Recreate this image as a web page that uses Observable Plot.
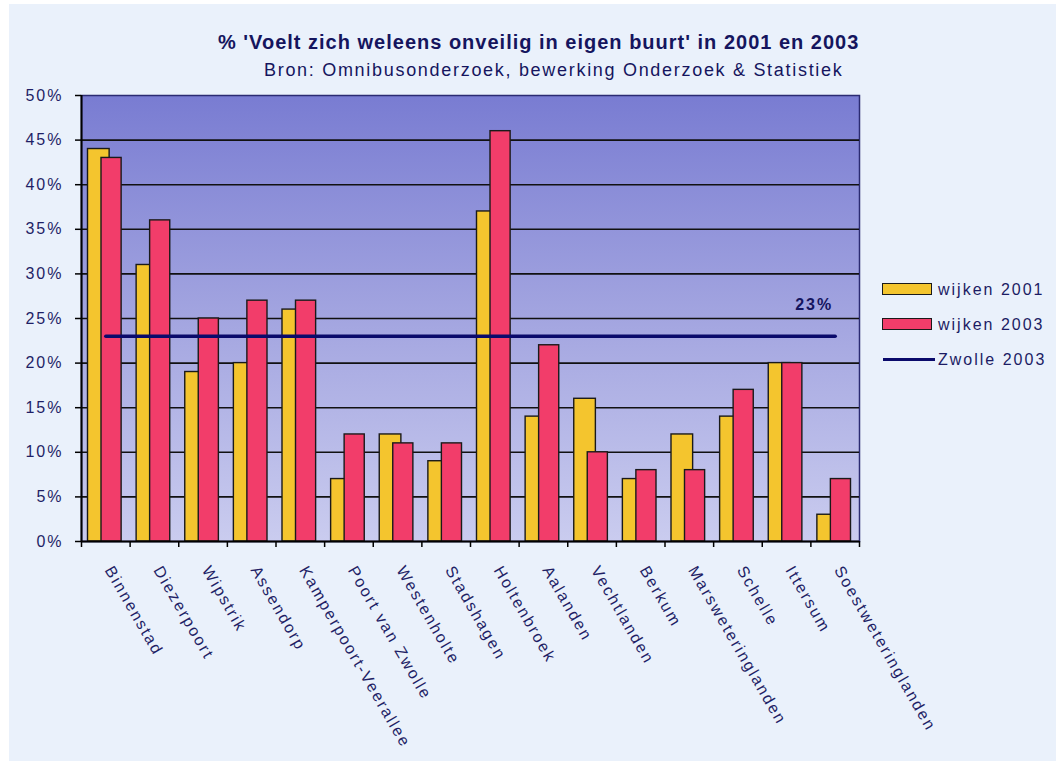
<!DOCTYPE html>
<html>
<head>
<meta charset="utf-8">
<script src="https://cdn.jsdelivr.net/npm/d3@7"></script>
<script src="https://cdn.jsdelivr.net/npm/@observablehq/plot@0.6"></script>
<style>
  html, body { margin: 0; padding: 0; background: #ffffff; }
  #wrap { position: relative; width: 1056px; height: 761px; overflow: hidden; }
  #bg { position: absolute; left: 9px; top: 4px; right: 0; bottom: 0; background: #EAF1FB; z-index: 0; }
  #header { position: relative; height: 80px; z-index: 1; }
  .title, .subtitle { position: absolute; white-space: nowrap; font-family: "Liberation Sans", Arial, sans-serif; color: #15155E; }
  .title { left: 218px; top: 31px; font-size: 20px; line-height: 22px; font-weight: bold; letter-spacing: 1px; }
  .subtitle { left: 264px; top: 60px; font-size: 18px; line-height: 20px; letter-spacing: 1.7px; }
  #chart { position: relative; z-index: 1; }
  #chart svg { display: block; }
  #legend { position: absolute; left: 882px; top: 280px; z-index: 2; font-family: "Liberation Sans", Arial, sans-serif; font-size: 16px; letter-spacing: 2px; color: #1C1C64; }
  .item { position: absolute; left: 0; height: 30px; width: 180px; white-space: nowrap; }
  .sw { position: absolute; left: 0; width: 48px; height: 10px; border: 1.5px solid #1a1a1a; }
  .ln { position: absolute; left: 1px; width: 52px; height: 3px; background: #0A0A6B; }
  .lab { position: absolute; left: 56px; line-height: 20px; }
</style>
</head>
<body>
<div id="wrap">
  <div id="bg"></div>
  <div id="header">
    <div class="title">% 'Voelt zich weleens onveilig in eigen buurt' in 2001 en 2003</div>
    <div class="subtitle">Bron: Omnibusonderzoek, bewerking Onderzoek &amp; Statistiek</div>
  </div>
  <div id="chart"></div>
  <div id="legend"></div>
</div>
<script>
// ---- data ----
const wijken = ["Binnenstad", "Diezerpoort", "Wipstrik", "Assendorp", "Kamperpoort-Veerallee",
  "Poort van Zwolle", "Westenholte", "Stadshagen", "Holtenbroek", "Aalanden", "Vechtlanden",
  "Berkum", "Marsweteringlanden", "Schelle", "Ittersum", "Soestweteringlanden"];
const wijken2001 = [44, 31, 19, 20, 26, 7, 12, 9, 37, 14, 16, 7, 12, 14, 20, 3];
const wijken2003 = [43, 36, 25, 27, 27, 12, 11, 11, 46, 22, 10, 8, 8, 17, 20, 7];
const zwolle2003 = 23;
const yTicks = [0, 5, 10, 15, 20, 25, 30, 35, 40, 45, 50];
const seriesNames = ["wijken 2001", "wijken 2003", "Zwolle 2003"];
const colors = ["#F4C52E", "#F23D6A", "#0A0A6B"];

const data = wijken.map((w, i) => ({wijk: w, i, v2001: wijken2001[i], v2003: wijken2003[i]}));
const bounds = d3.range(wijken.length + 1);
const centers = wijken.map((w, i) => i + 0.5);

const chart = Plot.plot({
  width: 1056,
  height: 681,
  marginLeft: 81,
  marginRight: 197,
  marginTop: 15,
  marginBottom: 220,
  style: {fontFamily: "'Liberation Sans', Arial, sans-serif", fontSize: "16px", background: "transparent", letterSpacing: "2px"},
  x: {domain: [0, wijken.length], axis: null},
  y: {domain: [0, 50], axis: null},
  marks: [
    Plot.frame({fill: "url(#plotbg)", stroke: "#2B2B72", strokeWidth: 1.5}),
    Plot.ruleY(yTicks.filter(v => v > 0 && v < 50), {stroke: "#111", strokeWidth: 1.6}),
    Plot.rectY(data, {x1: "i", x2: d => d.i + 1, y: "v2001", fill: colors[0], stroke: "#1a1a1a", strokeWidth: 1.4, insetLeft: 6.5, insetRight: 20.5}),
    Plot.rectY(data, {x1: "i", x2: d => d.i + 1, y: "v2003", fill: colors[1], stroke: "#1a1a1a", strokeWidth: 1.4, insetLeft: 20, insetRight: 8.5}),
    Plot.lineY(data, {x: d => d.i + 0.5, y: () => zwolle2003, stroke: colors[2], strokeWidth: 3.5}),
    Plot.text([zwolle2003], {x: wijken.length - 0.5, y: d => d, text: d => d + "%", textAnchor: "end", dx: -2, dy: -31, fontWeight: "bold", fill: "#14145E", fontSize: 16, letterSpacing: 0}),
    Plot.ruleY([0], {stroke: "#000", strokeWidth: 2}),
    Plot.ruleX([0], {stroke: "#000", strokeWidth: 2}),
    Plot.axisY(yTicks, {tickSize: 6, tickPadding: 12, tickFormat: d => d + "%", stroke: "#000", strokeWidth: 1.5, fill: "#1F1F66", label: null}),
    Plot.axisX(bounds, {tickSize: 6, stroke: "#000", strokeWidth: 1.5, fill: "none", label: null}),
    Plot.axisX(centers, {tickSize: 0, tickPadding: 26, tickRotate: 60, dx: 3, tickFormat: d => wijken[Math.floor(d)], fill: "#1F1F66", label: null, fontSize: 16})
  ]
});

const svg = d3.select(chart);
const defs = svg.insert("defs", ":first-child");
const grad = defs.append("linearGradient").attr("id", "plotbg").attr("x1", 0).attr("y1", 0).attr("x2", 0).attr("y2", 1);
grad.append("stop").attr("offset", "0%").attr("stop-color", "#797CD2");
grad.append("stop").attr("offset", "50%").attr("stop-color", "#A3A5E0");
grad.append("stop").attr("offset", "100%").attr("stop-color", "#CACCEF");

document.getElementById("chart").appendChild(chart);

// legend
const legend = d3.select("#legend");
seriesNames.forEach((name, k) => {
  const item = legend.append("div").attr("class", "item").style("top", (k * 35) + "px");
  if (k < 2) {
    item.append("div").attr("class", "sw").style("top", "3px").style("background", colors[k]);
  } else {
    item.append("div").attr("class", "ln").style("top", "8px");
  }
  item.append("div").attr("class", "lab").text(name);
});
</script>
</body>
</html>
